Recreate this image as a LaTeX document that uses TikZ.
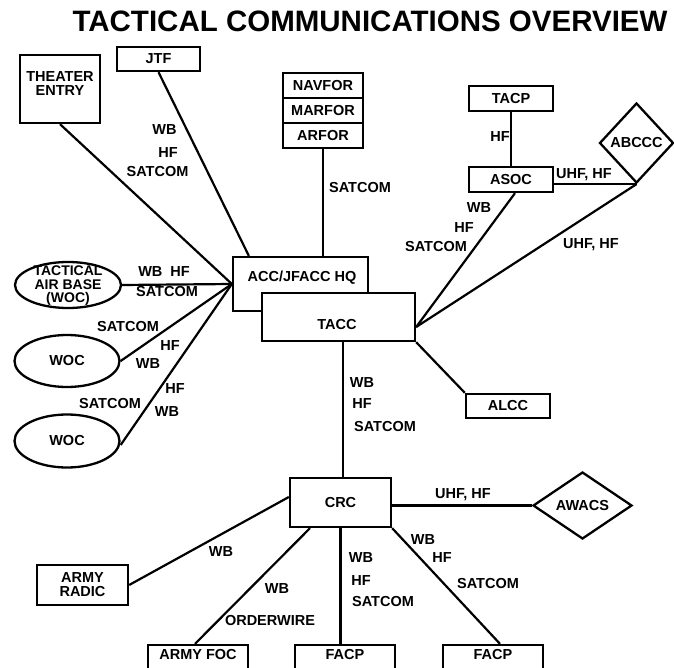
\documentclass[tikz,border=0pt]{standalone}
\usepackage{fontspec}
\setmainfont{Liberation Sans}
\usetikzlibrary{shapes.geometric,calc}
\begin{document}
\begin{tikzpicture}[x=1pt,y=-1pt,
  every node/.style={font=\bfseries\fontsize{14.5}{14}\selectfont, inner sep=0pt},
  box/.style={draw, line width=2.3pt, fill=white, rectangle},
  oval/.style={draw, line width=2.3pt, fill=white, ellipse},
  dia/.style={draw, line width=2.3pt, fill=white, diamond},
  link/.style={line width=2.2pt},
  lbl/.style={align=center}]
\useasboundingbox (0,0) rectangle (674,668);

% title
\node[font=\bfseries\fontsize{29.5}{30}\selectfont] (title) at (370,21) {TACTICAL COMMUNICATIONS OVERVIEW};

% nodes
\node[box, minimum width=80pt, minimum height=68pt] (theater) at (60,89) {};
\node[lbl] (theatert) at (60,84) {THEATER\\ENTRY};
\node[box, minimum width=83pt, minimum height=24pt] (jtf) at (158.5,59) {JTF};
\node[box, minimum width=80pt, minimum height=25pt] (navfor) at (323,85.5) {NAVFOR};
\node[box, minimum width=80pt, minimum height=25pt] (marfor) at (323,110.5) {MARFOR};
\node[box, minimum width=80pt, minimum height=25pt] (arfor) at (323,135.5) {ARFOR};

\node[box, minimum width=135pt, minimum height=54pt] (acc) at (300.5,284) {};
\node[lbl] (acct) at (302,278) {ACC/JFACC HQ};
\node[box, minimum width=153pt, minimum height=48pt] (tacc) at (338.5,317) {};
\node[lbl] (tacct) at (337,325) {TACC};

\node[oval, minimum width=106pt, minimum height=46pt] (tab) at (68,285) {};
\node[lbl, font=\bfseries\fontsize{14}{13.5}\selectfont] (tabt) at (68,286) {TACTICAL\\AIR BASE\\(WOC)};
\node[oval, minimum width=105pt, minimum height=52pt] (woc1) at (67,361) {WOC};
\node[oval, minimum width=105pt, minimum height=53pt] (woc2) at (67,441) {WOC};

\node[box, minimum width=84pt, minimum height=25pt] (tacp) at (511,98.5) {TACP};
\node[box, minimum width=84pt, minimum height=25pt] (asoc) at (511,179.5) {ASOC};
\node[dia, minimum width=74pt, minimum height=80pt] (abccc) at (636.5,143) {ABCCC};
\node[box, minimum width=84pt, minimum height=24pt] (alcc) at (508,406) {ALCC};

\node[box, minimum width=101pt, minimum height=49pt] (crc) at (340.5,502.5) {CRC};
\node[dia, minimum width=99pt, minimum height=67pt] (awacs) at (582.5,505.5) {AWACS};
\node[box, minimum width=91pt, minimum height=40pt, align=center] (radic) at (82.5,585) {ARMY\\RADIC};
\node[box, minimum width=100pt, minimum height=24pt] (foc) at (198,657) {};
\node[lbl] (foct) at (198,655) {ARMY FOC};
\node[box, minimum width=100pt, minimum height=24pt] (facp1) at (345,657) {};
\node[lbl] (facp1t) at (345,655) {FACP};
\node[box, minimum width=100pt, minimum height=24pt] (facp2) at (493,657) {};
\node[lbl] (facp2t) at (493,655) {FACP};

% helper coordinates
\coordinate (accL) at (acc.west);
\coordinate (taccR) at ([yshift=-10pt]tacc.east);

% connectors
\draw[link] (theater.south) -- (accL);
\draw[link] (jtf.south) -- ([xshift=17pt]acc.north west);
\draw[link] (arfor.south) -- (arfor.south |- acc.north);
\draw[link] (tab.east) -- (accL);
\draw[link] (woc1.east) -- (accL);
\draw[link] ([yshift=-4pt]woc2.east) -- (accL);

\draw[link] (tacp.south) -- (asoc.north);
\draw[link] (asoc.east |- abccc.south) -- (abccc.south);
\draw[link] ([xshift=4pt]asoc.south) -- (taccR);
\draw[link] (abccc.south) -- (taccR);
\draw[link] (tacc.south east) -- (alcc.north west);
\draw[link] ([xshift=2.5pt]crc.north) -- ([xshift=2.5pt]crc.north |- tacc.south);

\draw[link] (awacs.west -| crc.east) -- (awacs.west);
\draw[link] ([yshift=5.5pt]crc.west) -- (radic.east);
\draw[link] ([xshift=-30.5pt]crc.south) -- ([xshift=-3pt]foc.north);
\draw[link] (crc.south) -- (crc.south |- facp1.north);
\draw[link] (crc.south east) -- ([xshift=7pt]facp2.north);

% labels
\node (l1) at (164.5,130) {WB};
\node (l2) at (168,153) {HF};
\node (l3) at (157.5,172) {SATCOM};
\node (l4) at (360,188) {SATCOM};
\node (l5) at (164,272) {WB\hspace{8pt}HF};
\node (l6) at (167,292) {SATCOM};
\node (l7) at (128,327) {SATCOM};
\node (l8) at (170,346) {HF};
\node (l9) at (148,364) {WB};
\node (l10) at (175,389) {HF};
\node (l11) at (110,404) {SATCOM};
\node (l12) at (167,412) {WB};
\node (l13) at (500,137) {HF};
\node (l14) at (584,175) {UHF, HF};
\node (l15) at (479,208) {WB};
\node (l16) at (464,228) {HF};
\node (l17) at (436,247) {SATCOM};
\node (l18) at (591,245) {UHF, HF};
\node (l19) at (362,383) {WB};
\node (l20) at (362,404) {HF};
\node (l21) at (385,427) {SATCOM};
\node (l22) at (463,495) {UHF, HF};
\node (l23) at (221,552) {WB};
\node (l24) at (277,589) {WB};
\node (l25) at (270,621) {ORDERWIRE};
\node (l26) at (361,558) {WB};
\node (l27) at (361,581) {HF};
\node (l28) at (383,602) {SATCOM};
\node (l29) at (423,540) {WB};
\node (l30) at (442,558) {HF};
\node (l31) at (488,584) {SATCOM};
\end{tikzpicture}
\end{document}
